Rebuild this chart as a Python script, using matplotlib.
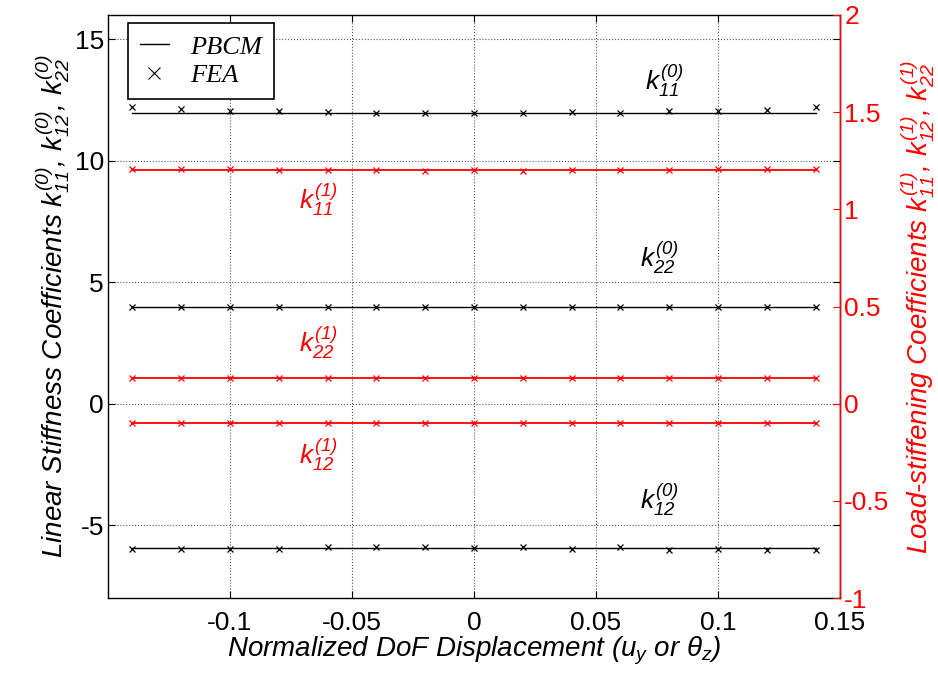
import matplotlib
matplotlib.use("Agg")
import matplotlib.pyplot as plt

plt.rcParams['font.family'] = 'Liberation Sans'
plt.rcParams['mathtext.fontset'] = 'custom'
plt.rcParams['mathtext.it'] = 'Liberation Sans:italic'
plt.rcParams['mathtext.rm'] = 'Liberation Sans:italic'
plt.rcParams['mathtext.default'] = 'it'

# displacement samples
disp = [-0.14, -0.12, -0.10, -0.08, -0.06, -0.04, -0.02, 0.0,
        0.02, 0.04, 0.06, 0.08, 0.10, 0.12, 0.14]

# linear stiffness (left axis)
pbcm_k11_0 = 11.95
pbcm_k22_0 = 3.98
pbcm_k12_0 = -5.93
fea_k11_0 = [12.22, 12.11, 12.04, 12.04, 11.99, 11.98, 11.95, 11.95,
             11.95, 12.00, 11.98, 12.03, 12.03, 12.10, 12.22]
fea_k22_0 = [3.96, 3.96, 3.96, 3.96, 3.96, 3.96, 3.96, 3.97,
             3.96, 3.96, 3.96, 3.96, 3.96, 3.96, 3.96]
fea_k12_0 = [-6.00, -6.00, -6.00, -6.00, -5.92, -5.89, -5.92, -5.93,
             -5.89, -6.00, -5.92, -6.03, -6.00, -6.03, -6.03]

# load-stiffening (right axis)
pbcm_k11_1 = 1.20
pbcm_k22_1 = 0.132
pbcm_k12_1 = -0.10
fea_k11_1 = [1.210, 1.205, 1.205, 1.200, 1.200, 1.200, 1.195, 1.200,
             1.195, 1.200, 1.200, 1.200, 1.205, 1.205, 1.210]
fea_k22_1 = [0.131, 0.131, 0.131, 0.131, 0.131, 0.131, 0.131, 0.131,
             0.131, 0.131, 0.131, 0.131, 0.131, 0.131, 0.131]
fea_k12_1 = [-0.101, -0.101, -0.101, -0.101, -0.101, -0.101, -0.101, -0.101,
             -0.101, -0.101, -0.101, -0.101, -0.101, -0.101, -0.101]

fig = plt.figure(figsize=(9.38, 6.76), dpi=100)
ax = fig.add_axes([108/938, 1-598/676, 732/938, 583/676])
ax2 = ax.twinx()

x0, x1 = disp[0], disp[-1]
ms = 5
for c, f in [(pbcm_k11_0, fea_k11_0), (pbcm_k22_0, fea_k22_0), (pbcm_k12_0, fea_k12_0)]:
    ax.plot([x0, x1], [c, c], color='k', lw=1.0)
    ax.plot(disp, f, 'x', color='k', ms=ms, mew=0.9)
for c, f in [(pbcm_k11_1, fea_k11_1), (pbcm_k22_1, fea_k22_1), (pbcm_k12_1, fea_k12_1)]:
    ax2.plot([x0, x1], [c, c], color='r', lw=1.3)
    ax2.plot(disp, f, 'x', color='r', ms=ms, mew=0.9)

ax.set_xlim(-0.15, 0.15)
ax.set_ylim(-8, 16)
ax2.set_ylim(-1, 2)
ax.set_xticks([-0.1, -0.05, 0, 0.05, 0.1, 0.15])
ax.set_xticklabels(['-0.1', '-0.05', '0', '0.05', '0.1', '0.15'])
ax.set_yticks([-5, 0, 5, 10, 15])
ax.set_yticklabels(['-5', '0', '5', '10', '15'])
ax2.set_yticks([-1, -0.5, 0, 0.5, 1, 1.5, 2])
ax2.set_yticklabels(['-1', '-0.5', '0', '0.5', '1', '1.5', '2'])

ax.grid(True, color='0.35', linestyle=':', lw=0.8)
ax.tick_params(direction='in', length=5, labelsize=19, top=True, right=True, width=0.8)
ax.tick_params(axis='x', pad=9)
ax.tick_params(axis='y', pad=3)
ax2.tick_params(direction='in', length=5, labelsize=19, colors='r', width=0.8, pad=3)
for s in ax.spines.values():
    s.set_linewidth(1.0)
ax2.spines['right'].set_color('r')
ax2.spines['right'].set_linewidth(1.0)
ax2.spines['left'].set_visible(False)
ax2.spines['top'].set_visible(False)
ax2.spines['bottom'].set_visible(False)

ax.set_xlabel(r'Normalized DoF Displacement ($u_y$ or $\theta_z$)',
              fontsize=20, style='italic', labelpad=0)
ax.set_ylabel(r'Linear Stiffness Coefficients $k^{(0)}_{11}$, $k^{(0)}_{12}$, $k^{(0)}_{22}$',
              fontsize=20, style='italic', labelpad=2)
ax2.set_ylabel(r'Load-stiffening Coefficients $k^{(1)}_{11}$, $k^{(1)}_{12}$, $k^{(1)}_{22}$',
               fontsize=20, style='italic', color='r', labelpad=6)

lbl = dict(fontsize=19, ha='center', va='center')
ax.text(0.078, 13.3, r'$k^{(0)}_{11}$', color='k', **lbl)
ax.text(0.076, 6.0, r'$k^{(0)}_{22}$', color='k', **lbl)
ax.text(0.076, -3.96, r'$k^{(0)}_{12}$', color='k', **lbl)
ax.text(-0.064, 8.4, r'$k^{(1)}_{11}$', color='r', **lbl)
ax.text(-0.064, 2.5, r'$k^{(1)}_{22}$', color='r', **lbl)
ax.text(-0.064, -2.1, r'$k^{(1)}_{12}$', color='r', **lbl)

h1, = ax.plot([], [], color='k', lw=1.0, label='PBCM')
h2, = ax.plot([], [], 'x', color='k', ms=9, mew=0.8, label='FEA')
leg = ax.legend(handles=[h1, h2], loc='upper left', bbox_to_anchor=(0.0273, 0.986),
                borderaxespad=0,
                prop={'family': 'Liberation Serif', 'style': 'italic', 'size': 19},
                fancybox=False, framealpha=1, edgecolor='k', handlelength=1.1,
                borderpad=0.45, labelspacing=0.2, handletextpad=0.8)
leg.get_frame().set_linewidth(1.2)

fig.savefig('out.png', dpi=100)
